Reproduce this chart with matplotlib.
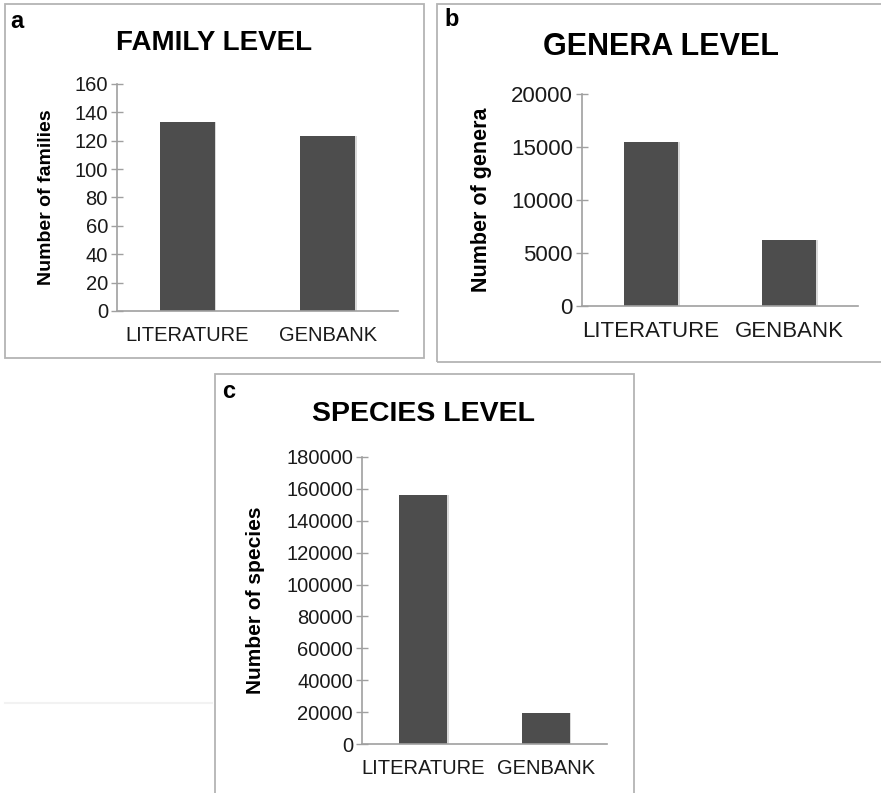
import matplotlib
matplotlib.use("Agg")
from matplotlib import pyplot as plt
from matplotlib.patches import Rectangle
from matplotlib.lines import Line2D

plt.rcParams['font.family'] = ['Liberation Sans', 'DejaVu Sans']

categories = ["LITERATURE", "GENBANK"]
family_counts = [133, 123]
genera_counts = [15500, 6200]
species_counts = [156000, 19500]

family_ticks = [0, 20, 40, 60, 80, 100, 120, 140, 160]
genera_ticks = [0, 5000, 10000, 15000, 20000]
species_ticks = [0, 20000, 40000, 60000, 80000, 100000, 120000, 140000, 160000, 180000]

W, H = 881, 793
fig = plt.figure(figsize=(W / 100, H / 100), dpi=100)

def px_rect(x0, y0, x1, y1):
    # pixel box (top-left origin) -> figure fraction [left, bottom, width, height]
    return [x0 / W, 1 - y1 / H, (x1 - x0) / W, (y1 - y0) / H]

def box(x0, y0, x1, y1):
    l, b, w, h = px_rect(x0, y0, x1, y1)
    fig.patches.append(Rectangle((l, b), w, h, transform=fig.transFigure,
                                 fill=False, edgecolor="#b4b4b4", linewidth=1.3))

def text(x, y, s, **kw):
    fig.text(x / W, 1 - y / H, s, **kw)

def panel(rect, values, ticks, ylabel, fs_tick, fs_label, label_x):
    ax = fig.add_axes(px_rect(*rect))
    xs = range(len(categories))
    # soft shadow behind the bars
    ax.bar([x + 0.012 for x in xs], values, width=0.39, color="#d9d9d9", zorder=1)
    ax.bar(xs, values, width=0.39, color="#4d4d4d", zorder=2)
    ax.set_xlim(-0.5, 1.5)
    ax.set_ylim(0, ticks[-1])
    ax.set_yticks(ticks)
    ax.set_xticks(list(xs))
    ax.set_xticklabels(categories, fontsize=fs_tick, color="#1a1a1a")
    ax.tick_params(axis="y", labelsize=fs_tick, labelcolor="#1a1a1a", direction="inout",
                   length=9, width=1, color="#a0a0a0", pad=2)
    ax.tick_params(axis="x", length=0, pad=11)
    for side in ["top", "right"]:
        ax.spines[side].set_visible(False)
    for side in ["left", "bottom"]:
        ax.spines[side].set_color("#a0a0a0")
        ax.spines[side].set_linewidth(1.2)
        ax.spines[side].set_zorder(3)
    ax.set_ylabel(ylabel, fontsize=fs_label, fontweight="bold")
    ax.yaxis.set_label_coords((label_x - rect[0]) / (rect[2] - rect[0]), 0.5)
    return ax

# borders around the three panels
box(5, 4, 424, 358)
box(437, 4, 890, 362)
box(215, 374, 634, 800)

# faint rule left of panel c
fig.add_artist(Line2D([5 / W, 212 / W], [1 - 703 / H, 1 - 703 / H],
                      transform=fig.transFigure, color="#f2f2f2", linewidth=1.5))

panel((117, 84, 398, 311), family_counts, family_ticks, "Number of families", 14.5, 14, 55)
panel((582, 94, 858, 306), genera_counts, genera_ticks, "Number of genera", 16, 15.5, 492)
panel((362, 457, 607, 744), species_counts, species_ticks, "Number of species", 14.5, 15, 265)

text(214, 43, "FAMILY LEVEL", fontsize=20, fontweight="bold", ha="center", va="center")
text(661, 47, "GENERA LEVEL", fontsize=22, fontweight="bold", ha="center", va="center")
text(424, 414, "SPECIES LEVEL", fontsize=20.5, fontweight="bold", ha="center", va="center")

text(10, 21, "a", fontsize=17, fontweight="bold", ha="left", va="center")
text(444, 19, "b", fontsize=17, fontweight="bold", ha="left", va="center")
text(222, 391, "c", fontsize=17, fontweight="bold", ha="left", va="center")

plt.savefig("out.png", dpi=100)
